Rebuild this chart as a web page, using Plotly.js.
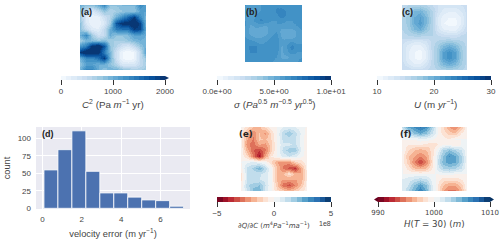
<!DOCTYPE html>
<html><head><meta charset="utf-8">
<script src="https://cdn.plot.ly/plotly-3.0.1.min.js"></script>
<style>html,body{margin:0;padding:0;background:#fff}</style></head>
<body><div id="chart" style="width:500px;height:242px"></div>
<script>
var bedC2 = [
[1000,800,800,1000,1300,800,800,900,900,900,1300,1100],
[800,500,300,500,800,600,700,800,800,800,1100,1100],
[700,250,100,150,400,600,1000,1300,1600,1900,1300,900],
[800,300,100,100,300,700,1700,2000,2000,2200,1800,900],
[800,500,250,200,500,1000,1400,1500,1500,1900,1800,1000],
[1000,1300,700,400,500,1000,800,800,900,1100,1100,1000],
[700,900,900,800,900,700,700,700,800,900,1000,900],
[1200,1400,2000,2200,1700,800,600,400,300,500,800,1000],
[1900,2200,2200,2000,1400,900,400,100,0,100,500,1200],
[1000,1300,1300,1500,1900,1000,400,100,0,100,500,800],
[800,1100,1100,1000,1000,800,600,300,300,300,500,700],
[1000,1400,1400,1000,800,1000,1000,900,800,700,700,800]];
var sigma = [
[6.0,5.8,5.8,6.0,6.2,6.2,6.4,6.2,6.0,6.2,6.2,6.2],
[5.8,5.6,5.8,6.0,6.0,6.2,6.6,6.8,6.4,6.2,6.2,6.2],
[5.8,5.6,6.0,6.4,6.2,6.0,6.4,6.8,6.4,6.2,6.2,6.2],
[6.0,5.8,6.2,6.6,6.4,6.0,6.0,6.2,6.0,6.0,6.2,6.2],
[6.0,5.4,5.6,5.6,5.4,5.8,6.0,5.8,5.8,5.8,6.0,6.2],
[5.8,5.2,5.4,5.2,5.2,5.8,6.0,5.2,5.2,5.2,5.6,6.0],
[6.0,5.6,5.4,5.4,5.6,6.0,6.2,5.4,5.2,5.2,5.6,6.0],
[6.2,6.2,6.0,5.8,6.0,6.2,6.4,5.6,5.8,6.0,5.8,6.0],
[6.4,6.6,6.6,6.2,6.2,6.4,6.4,5.4,6.0,6.8,6.2,6.0],
[6.2,6.6,6.6,6.2,6.2,6.2,6.2,5.4,5.8,6.4,6.0,6.0],
[6.0,6.2,6.2,6.0,6.0,6.2,6.0,5.4,5.4,5.6,5.8,6.0],
[6.0,6.0,6.0,6.0,6.0,6.0,5.8,5.6,5.6,5.8,6.0,6.2]];
var speedU = [
[15.5,16,16.5,16.5,16,15,14,13.5,13.5,13.5,14,14.5],
[16,17,19,19.5,18,16,14,12.5,12,12,13,14.5],
[16,17.5,20,21,19,16,13,11.5,11,11,12,14.5],
[16,17.5,20,21.5,19,16,13,11,10.5,10.5,12,14.5],
[16,17,19,20,18,16,13.5,12,11.5,11.5,13,15],
[15.5,16,16.5,16.5,16,16,15,14.5,14,14,15,15.5],
[14.5,14,13.5,13.5,14,15.5,16,16.5,17,16.5,16,15.5],
[14,12.5,11.5,11.5,13,15.5,17,19,20,19,17,15.5],
[14,12,11,10.5,12,15.5,17.5,21,22.5,21,17.5,15.5],
[14,12,11,10.5,12,15.5,17.5,21,22.5,21,17.5,15.5],
[14.5,13,12,12,13.5,15.5,17,19,20,19,17,15.5],
[15,15,14.5,14.5,15,15.5,16,16.5,16.5,16.5,16,15.5]];
var binCenters = [0.43,1.14,1.85,2.56,3.27,3.98,4.69,5.4,6.11,6.82];
var binCounts = [55,84,111,53,22,22,16,12,11,3];
var dQdC = [
[0,-0.8,-1.6,-1.6,-1.0,-0.2,0,0.5,0.7,0.5,0.2,-0.1],
[-0.3,-1.8,-2.4,-1.5,-2.2,-0.9,0.1,1.4,1.9,1.2,0.4,-0.3],
[-0.3,-2.0,-2.6,-1.4,-1.6,-1.0,0.1,1.2,1.2,1.0,0.3,-0.5],
[-0.2,-2.4,-2.8,-2.0,-2.2,-1.2,0.1,0.8,0.9,1.1,0.3,-0.6],
[-0.2,-1.8,-3.0,-3.4,-2.6,-1.2,0.1,1.2,1.8,1.8,0.4,-0.4],
[-0.1,-1.0,-2.6,-4.2,-2.0,-0.5,0,0.7,1.0,0.6,0.1,-0.2],
[0,0.4,0.6,0.4,0,-1.0,-2.0,-2.4,-2.2,-1.2,-0.8,0],
[-0.2,1.2,1.6,2.4,1.3,0,-1.6,-2.6,-3.2,-3.6,-1.8,-0.2],
[-0.6,1.0,1.1,1.1,0.8,0,-1.6,-1.6,-0.6,-1.8,-2.0,-0.3],
[-0.6,1.0,1.0,1.0,0.8,0,-1.6,-2.0,-2.0,-2.0,-1.8,-0.3],
[-0.3,1.4,1.8,2.0,1.0,0,-1.4,-2.8,-3.2,-2.4,-1.4,-0.2],
[-0.1,1.0,2.2,2.4,0.8,0,-0.8,-1.2,-1.6,-1.2,-0.6,-0.1]];
var thickness = [
[1002,1005,1006,1007,1006,1003,1000,998,996,995,997,1000],
[1001,1002,1004,1005,1004,1002,1000,998.5,997.5,997,999,1000],
[1000,1000,1000,1000.5,1000.5,1000,999.5,999.5,999,1000,1000,1000],
[999.5,999,999,999,998.5,998,999,1000,1000,999,1000,1000],
[1000,998,997,996.5,997,998.5,1000.5,1003,1004,1003,1002,1000],
[999.5,997,996,995,996,998.5,1001.5,1004,1006,1005,1003,1000],
[999.5,997.5,995,993,995,998.5,1002,1004.5,1005.5,1005,1003,1000],
[1000,998.5,997,996.5,997,999,1001.5,1003,1003.5,1003,1002,1000],
[1000,1000,1000,1000,1000,1000,1000,1000.5,1000.5,1000,1000,1000],
[1001,1001.5,1002,1002.5,1002,1000.5,999.5,998.5,998.5,998.5,999,1000],
[1001,1002,1004,1005.5,1004,1001,999,997,996,996,997.5,1000],
[1001,1003,1005,1007,1005,1001,999,996,994.5,994.5,996.5,1000]];

var tickA=[0,1000,2000], tickAText=['0','1000','2000'];
var tickB=[0,5,10], tickBText=['0.0e+00','5.0e+00','1.0e+01'];
var tickC=[10,20,30], tickCText=['10','20','30'];
var tickE=[-5,0,5], tickEText=['\u22125','0','5'];
var tickF=[990,1000,1010], tickFText=['990','1000','1010'];

var W=500,H=242;
var GREY='#444';
var SANS='"Liberation Sans",Arial,sans-serif', DEJA='"DejaVu Sans",sans-serif';
var Blues=['#f7fbff','#deebf7','#c6dbef','#9ecae1','#6baed6','#4292c6','#2171b5','#08519c','#08306b'];
var RdBu=['#67001f','#b2182b','#d6604d','#f4a582','#fddbc7','#f7f7f7','#d1e5f0','#92c5de','#4393c3','#2166ac','#053061'];
function sample(cols,t){var p=t*(cols.length-1),i=Math.min(Math.floor(p),cols.length-2),f=p-i,a=cols[i],b=cols[i+1],o=[];
 for(var k=1;k<6;k+=2){var u=parseInt(a.substr(k,2),16),v=parseInt(b.substr(k,2),16);o.push(Math.round(u+(v-u)*f));}
 return 'rgb('+o.join(',')+')';}
function stepped(cols,n){var s=[];for(var i=0;i<n;i++){var c=sample(cols,(i+0.5)/n);s.push([i/n,c]);s.push([(i+1)/n,c]);}return s;}
function fx(p){return p/W} function fy(p){return 1-p/H}
var layout={width:W,height:H,margin:{l:0,r:0,t:0,b:0},paper_bgcolor:'#fff',plot_bgcolor:'#fff',showlegend:false,
 annotations:[],shapes:[],font:{family:SANS,size:8,color:GREY}};
var traces=[];
function field(i,z,cols,lo,hi,n,box,bar,tv,tt,font,fs){
 var id=i==1?'':i;
 layout['xaxis'+id]={domain:[fx(box[0]),fx(box[1])],range:[0,z[0].length-1],visible:false,fixedrange:true,anchor:'y'+id};
 layout['yaxis'+id]={domain:[fy(box[3]),fy(box[2])],range:[z.length-1,0],visible:false,fixedrange:true,anchor:'x'+id};
 traces.push({type:'heatmap',z:z,xaxis:'x'+id,yaxis:'y'+id,colorscale:stepped(cols,n),zmin:lo,zmax:hi,zsmooth:'best',
  colorbar:{orientation:'h',lenmode:'pixels',len:bar[1]-bar[0],thicknessmode:'pixels',thickness:bar[3]-bar[2],
   x:fx(bar[0]),xanchor:'left',y:fy(bar[2]),yanchor:'top',xpad:0,ypad:0,outlinewidth:0,borderwidth:0,
   tickmode:'array',tickvals:tv,ticktext:tt,ticks:'outside',ticklen:5,tickwidth:1,tickcolor:'#333',
   tickfont:{family:font,size:fs,color:GREY}}});
}
field(1,bedC2,Blues,0,2000,20,[80,146,5,70],[61,165,76,80],tickA,tickAText,SANS,8);
field(2,sigma,Blues,0,10,20,[245,302,5,62],[217,331,76,80],tickB,tickBText,SANS,8);
field(3,speedU,Blues,10,30,20,[402,467,5,70],[377,491,76,80],tickC,tickCText,SANS,8);
layout.xaxis4={domain:[fx(36),fx(190)],range:[-0.33,7.5],anchor:'y4',tickvals:[0,2,4,6],gridcolor:'#fff',gridwidth:1,zeroline:false,ticks:'',showline:false,tickfont:{size:8,color:GREY},ticklabelstandoff:4,fixedrange:true,
 title:{text:'velocity error (m yr<sup>\u22121</sup>)',font:{size:9.3,color:GREY},standoff:7}};
layout.yaxis4={domain:[fy(209),fy(127)],range:[-1,116.5],anchor:'x4',tickvals:[0,25,50,75,100],gridcolor:'#fff',gridwidth:1,zeroline:false,ticks:'',showline:false,tickfont:{size:8,color:GREY},ticklabelstandoff:4,fixedrange:true,
 title:{text:'count',font:{size:9.3,color:GREY},standoff:5}};
layout.shapes.push({type:'rect',xref:'paper',yref:'paper',x0:fx(36),x1:fx(190),y0:fy(209),y1:fy(127),fillcolor:'#eaeaf2',line:{width:0},layer:'below'});
traces.push({type:'bar',x:binCenters,y:binCounts,width:0.709,xaxis:'x4',yaxis:'y4',marker:{color:'#4c72b0',line:{color:'#fff',width:0.8}}});
field(5,dQdC,RdBu,-5,5,20,[241,307,127,191],[217,331,197,202],tickE,tickEText,SANS,8);
field(6,thickness,RdBu,990,1010,20,[402,467,127,191],[378,490,197,202],tickF,tickFText,DEJA,7);
function note(text,x,y,size,fam,bold,col){layout.annotations.push({xref:'paper',yref:'paper',x:fx(x),y:fy(y),xanchor:'center',yanchor:'middle',showarrow:false,
 text:bold?'<b>'+text+'</b>':text,font:{size:size,family:fam,color:col||GREY}});}
note('(a)',86.5,12.5,9,SANS,true,'#222');note('(b)',251.5,12.5,9,SANS,true,'#222');note('(c)',407.5,12.5,9,SANS,true,'#222');
note('(d)',47.5,134,9,SANS,true,'#222');note('(e)',246,134,8.5,DEJA,true,'#222');note('(f)',406,134,8.5,DEJA,true,'#222');
note('<i>C</i><sup>2</sup> (Pa <i>m</i><sup>\u22121</sup> yr)',113,104,9.8,SANS);
note('<i>\u03c3</i> (<i>Pa</i><sup>0.5</sup> <i>m</i><sup>\u22120.5</sup> <i>yr</i><sup>0.5</sup>)',274.5,104,9.8,SANS);
note('<i>U</i> (m <i>yr</i><sup>\u22121</sup>)',435,104,9.8,SANS);
note('\u2202<i>Q</i>/\u2202<i>C</i> (<i>m</i><sup>4</sup><i>Pa</i><sup>\u22121</sup><i>ma</i><sup>\u22121</sup>)',274,225,7,DEJA);
note('1e8',325,223,7,SANS);
note('<i>H</i>(<i>T</i> = 30) (<i>m</i>)',434.5,224,8.7,DEJA);
function arrow(xb,xt,y0,y1,c){layout.shapes.push({type:'path',xref:'paper',yref:'paper',path:'M '+fx(xb)+' '+fy(y0)+' L '+fx(xt)+' '+fy((y0+y1)/2)+' L '+fx(xb)+' '+fy(y1)+' Z',fillcolor:c,line:{width:0}});}
arrow(165,169,76,80,'#08306b');arrow(490,494,197,202,'#053061');arrow(378,374,197,202,'#67001f');
Plotly.newPlot('chart',traces,layout,{displayModeBar:false,staticPlot:true});
</script></body></html>
